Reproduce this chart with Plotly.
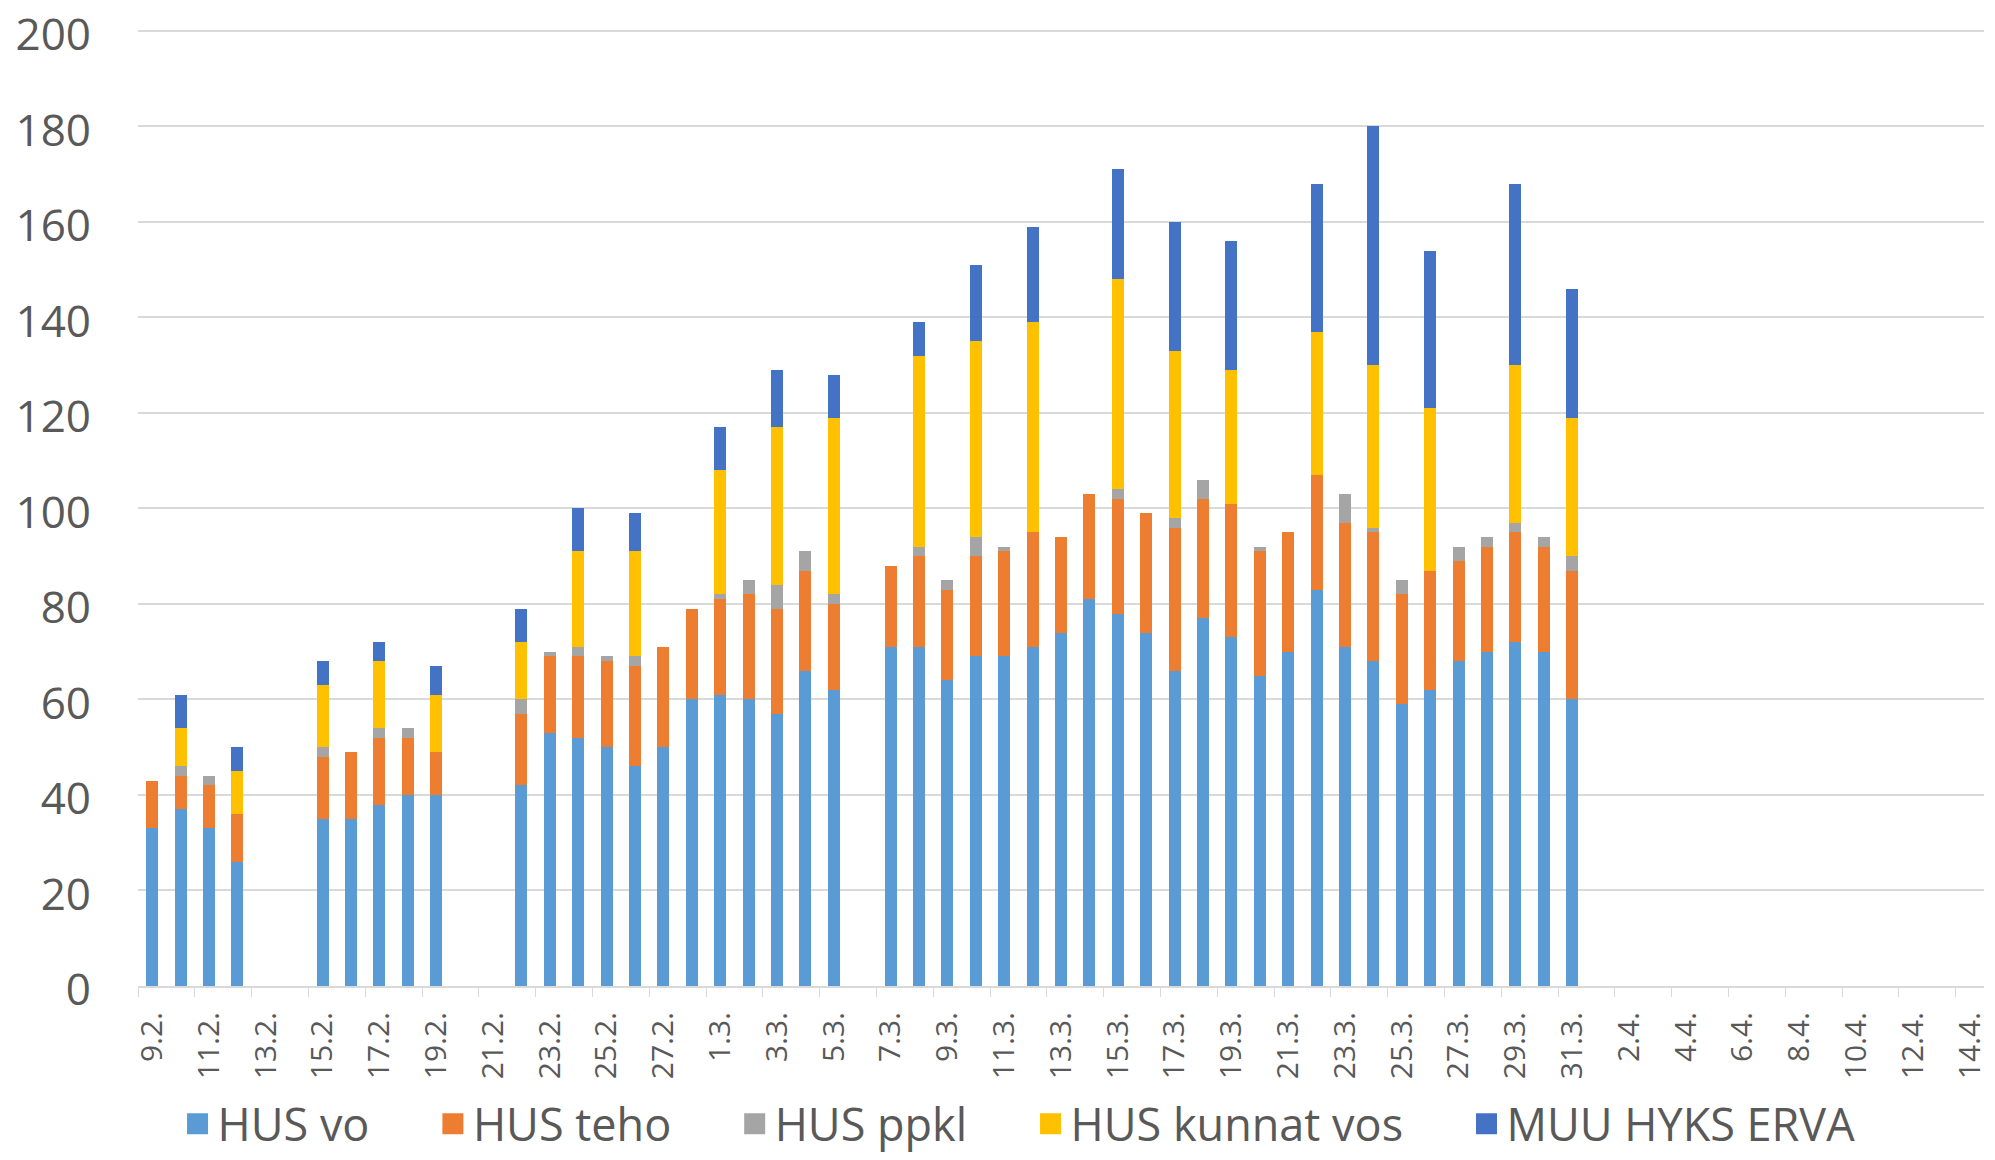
import plotly.graph_objects as go

dates = [f"{d}.2." for d in range(9, 29)] + [f"{d}.3." for d in range(1, 32)] + [f"{d}.4." for d in range(1, 15)]

N = None
hus_vo = [33, 37, 33, 26, N, N, 35, 35, 38, 40, 40, N, N,
          42, 53, 52, 50, 46, 50, 60, 61, 60, 57, 66, 62, N,
          71, 71, 64, 69, 69, 71, 74, 81, 78, 74, 66, 77, 73, 65, 70, 83, 71, 68, 59, 62, 68, 70, 72, 70, 60] + [N] * 14
hus_teho = [10, 7, 9, 10, N, N, 13, 14, 14, 12, 9, N, N,
            15, 16, 17, 18, 21, 21, 19, 20, 22, 22, 21, 18, N,
            17, 19, 19, 21, 22, 24, 20, 22, 24, 25, 30, 25, 28, 26, 25, 24, 26, 27, 23, 25, 21, 22, 23, 22, 27] + [N] * 14
hus_ppkl = [0, 2, 2, 0, N, N, 2, 0, 2, 2, 0, N, N,
            3, 1, 2, 1, 2, 0, 0, 1, 3, 5, 4, 2, N,
            0, 2, 2, 4, 1, 0, 0, 0, 2, 0, 2, 4, 0, 1, 0, 0, 6, 1, 3, 0, 3, 2, 2, 2, 3] + [N] * 14
hus_kunnat = [0, 8, 0, 9, N, N, 13, 0, 14, 0, 12, N, N,
              12, 0, 20, 0, 22, 0, 0, 26, 0, 33, 0, 37, N,
              0, 40, 0, 41, 0, 44, 0, 0, 44, 0, 35, 0, 28, 0, 0, 30, 0, 34, 0, 34, 0, 0, 33, 0, 29] + [N] * 14
muu_erva = [0, 7, 0, 5, N, N, 5, 0, 4, 0, 6, N, N,
            7, 0, 9, 0, 8, 0, 0, 9, 0, 12, 0, 9, N,
            0, 7, 0, 16, 0, 20, 0, 0, 23, 0, 27, 0, 27, 0, 0, 31, 0, 50, 0, 33, 0, 0, 38, 0, 27] + [N] * 14

names = ["HUS vo", "HUS teho", "HUS ppkl", "HUS kunnat vos", "MUU HYKS ERVA"]
values = [hus_vo, hus_teho, hus_ppkl, hus_kunnat, muu_erva]
colors = ["#5B9BD5", "#ED7D31", "#A5A5A5", "#FFC000", "#4472C4"]

fig = go.Figure()
for name, vals, col in zip(names, values, colors):
    fig.add_trace(go.Bar(x=dates, y=vals, name=name, legendgroup=name, showlegend=False,
                         marker=dict(color=col, line=dict(width=0))))

# legend entries (larger square swatches, like the original)
NBSP = "\u00a0"
for i, (name, col) in enumerate(zip(names, colors)):
    label = name + (NBSP * 5 if i < len(names) - 1 else "")
    fig.add_trace(go.Scatter(x=[None], y=[None], mode="markers", name=label, legendgroup=name,
                             marker=dict(symbol="square", size=16, color=col, line=dict(width=5, color=col)),
                             hoverinfo="skip"))

font_fam = "Open Sans, DejaVu Sans, sans-serif"
fig.update_layout(
    barmode="stack",
    bargap=0.58,
    width=1995, height=1160,
    paper_bgcolor="white", plot_bgcolor="white",
    margin=dict(l=138, r=11, t=29, b=174, autoexpand=False),
    font=dict(family=font_fam, color="#595959"),
    legend=dict(orientation="h", xref="container", yref="container",
                x=0.5108, xanchor="center", y=0.0, yanchor="bottom",
                font=dict(size=45, color="#595959"), traceorder="normal", itemclick=False),
    xaxis=dict(type="category", categoryorder="array", categoryarray=dates,
               tickmode="linear", tick0=0, dtick=2, tickangle=-90,
               tickfont=dict(size=30, color="#595959"), automargin=False,
               showgrid=False, showline=True, linecolor="#D9D9D9", linewidth=2,
               ticks="outside", tickson="boundaries", ticklen=9, tickcolor="#D9D9D9",
               ticklabelstandoff=12),
    yaxis=dict(range=[0, 200.4], tickvals=list(range(0, 201, 20)), tickfont=dict(size=44, color="#595959"),
               gridcolor="#D9D9D9", gridwidth=1.5, zeroline=False, showline=False, automargin=False,
               ticks="", ticklabelstandoff=46, ticklabelshift=4, ticklabeloverflow="allow"),
)

fig.write_html("out.html", config={"displayModeBar": False},
               post_script="document.body.style.margin='0';")
